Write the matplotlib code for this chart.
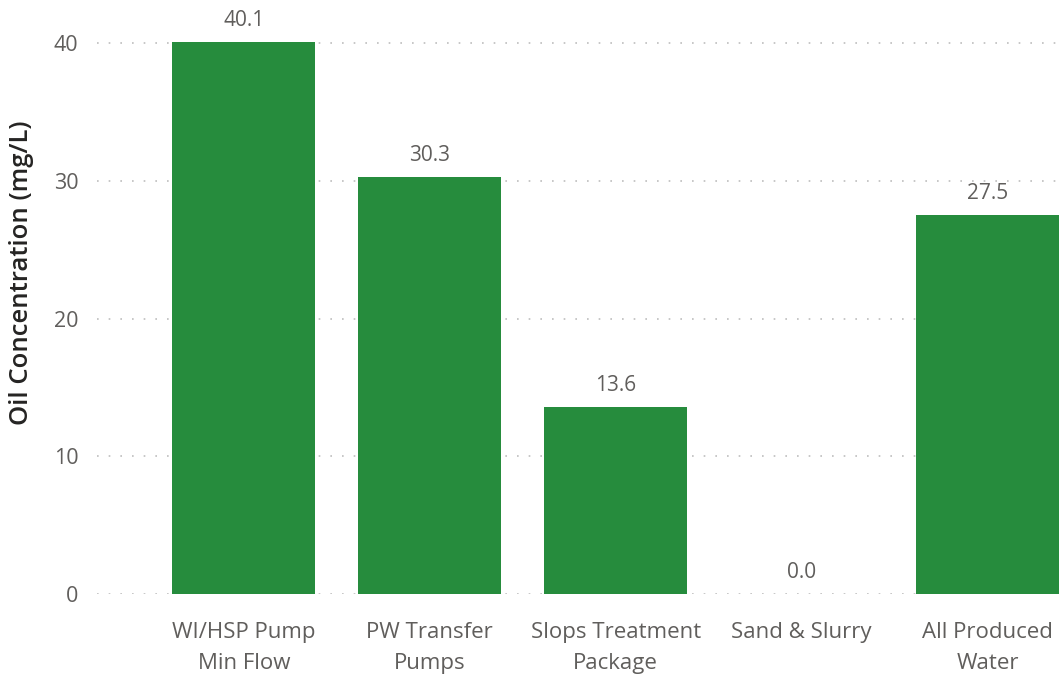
import matplotlib
matplotlib.use("Agg")
import matplotlib.pyplot as plt

# oil in water concentration by source stream
categories = ["WI/HSP Pump\nMin Flow", "PW Transfer\nPumps", "Slops Treatment\nPackage",
              "Sand & Slurry", "All Produced\nWater"]
oil_mg_l = [40.1, 30.3, 13.6, 0.0, 27.5]
y_ticks = [0, 10, 20, 30, 40]

plt.rcParams['font.family'] = ['Open Sans', 'DejaVu Sans']

bar_color = "#268C3D"
tick_color = "#605E5C"

fig = plt.figure(figsize=(10.62, 6.75), dpi=100)
ax = fig.add_axes([97 / 1062, 81 / 675, (1062 - 97) / 1062, 592.3 / 675])

x = list(range(len(categories)))
bars = ax.bar(x, oil_mg_l, width=0.77, color=bar_color, zorder=3)

for xi, v in zip(x, oil_mg_l):
    ax.annotate(f"{v:.1f}", (xi, v), xytext=(0, 8), textcoords="offset points",
                ha="center", va="bottom", fontsize=15, color=tick_color)

ax.set_xlim(-0.79, 4.40)
ax.set_ylim(0, 43)
ax.set_yticks(y_ticks)
ax.set_yticklabels([str(t) for t in y_ticks])
ax.set_xticks(x)
ax.set_xticklabels(categories, fontsize=16, color=tick_color, linespacing=1.6)
ax.tick_params(axis="y", length=0, pad=13.5, labelsize=15.5, labelcolor=tick_color)
ax.tick_params(axis="x", length=0, pad=20.5)

ax.yaxis.grid(True, linestyle=(0, (1, 6)), color="#BDBDBD", linewidth=1.2, zorder=0)
for s in ax.spines.values():
    s.set_visible(False)

fig.text(22 / 1062, 1 - 273 / 675, "Oil Concentration (mg/L)", rotation=90,
         ha="center", va="center", fontsize=18.5, color="#252423",
         fontweight="semibold")

fig.savefig("out.png", dpi=100)
